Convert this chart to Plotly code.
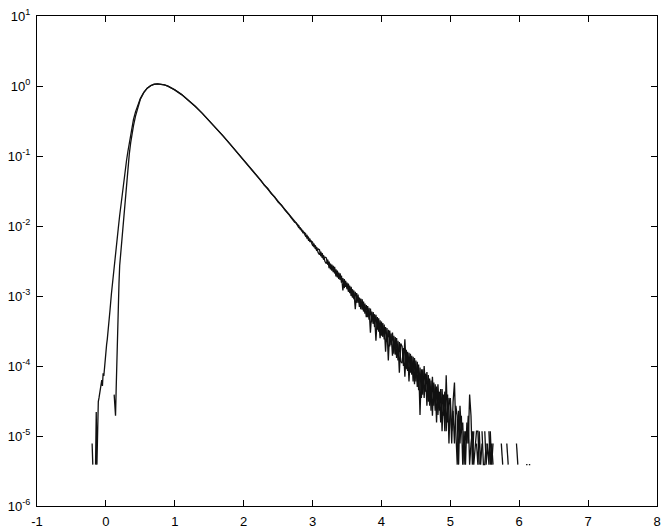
import plotly.graph_objects as go

# ---------------- data ----------------
# curve A: rising flank (starts further left)
rise_x_a = [-0.20, -0.19, -0.18, -0.15, -0.14, -0.13, -0.12, -0.11, -0.10, -0.09,
            -0.08, -0.07, -0.06, -0.05, -0.04, -0.03, -0.02, -0.01, 0.00, 0.01,
            0.02, 0.03, 0.04, 0.06, 0.08, 0.10, 0.12, 0.14, 0.16, 0.18,
            0.20, 0.22, 0.24, 0.26, 0.28, 0.30, 0.32, 0.34, 0.36, 0.38,
            0.40, 0.43, 0.46, 0.50]
rise_y_a = [7.8e-6, 3.9e-6, None, 3.9e-6, 2.2e-5, 3.9e-6, 2.6e-5, 3.1e-5, 3.5e-5, 4.0e-5,
            4.7e-5, 5.5e-5, 6.3e-5, 5.2e-5, 7.9e-5, 7.2e-5, 1.0e-4, 1.3e-4, 1.66e-4, 2.0e-4,
            2.4e-4, 2.95e-4, 3.7e-4, 6.3e-4, 1.07e-3, 1.74e-3, 2.7e-3, 4.1e-3, 6.2e-3, 9.3e-3,
            1.41e-2, 2.09e-2, 3.1e-2, 4.5e-2, 6.3e-2, 8.7e-2, 0.117, 0.155, 0.204, 0.263,
            0.331, 0.427, 0.525, 0.661]

# curve B: rising flank (starts near x = 0.12)
rise_x_b = [0.12, 0.13, 0.14, 0.15, 0.16, 0.17, 0.18, 0.19, 0.20, 0.22,
            0.24, 0.26, 0.28, 0.30, 0.32, 0.34, 0.36, 0.38, 0.40, 0.43,
            0.46, 0.50]
rise_y_b = [3.9e-5, 1.95e-5, 1.95e-5, 5.0e-5, 1.41e-4, 3.5e-4, 7.6e-4, 1.51e-3, 2.7e-3, 4.7e-3,
            7.6e-3, 1.26e-2, 2.09e-2, 3.7e-2, 6.8e-2, 0.107, 0.155, 0.209, 0.269, 0.372,
            0.49, 0.646]

# peak and smooth decline (both curves)
smooth_x = [0.55, 0.60, 0.65, 0.70, 0.75, 0.80, 0.85, 0.90, 0.95, 1.00,
            1.10, 1.20, 1.30, 1.40, 1.50, 1.60, 1.70, 1.80, 1.90, 2.00,
            2.05, 2.10, 2.15, 2.20, 2.25, 2.30, 2.35, 2.40, 2.45, 2.50, 2.55]
smooth_y_a = [0.813, 0.933, 1.012, 1.059, 1.072, 1.062, 1.035, 0.993, 0.940, 0.881,
              0.753, 0.627, 0.508, 0.406, 0.320, 0.250, 0.194, 0.149, 0.1146, 0.0875,
              0.0766, 0.0668, 0.0583, 0.0509, 0.0445, 0.0387, 0.0338, 0.0294, 0.0257, 0.0224, 0.0195]
smooth_y_b = [0.805, 0.930, 1.010, 1.058, 1.071, 1.062, 1.035, 0.993, 0.940, 0.881,
              0.753, 0.627, 0.508, 0.406, 0.320, 0.250, 0.194, 0.149, 0.1146, 0.0870,
              0.0771, 0.0663, 0.0588, 0.0503, 0.0450, 0.0381, 0.0343, 0.0290, 0.0261, 0.0220, 0.0198]

# noisy tail, histogram bins of width 0.02 starting at x = 2.60 (None = empty bin)
TAIL_START = 2.60
TAIL_STEP = 0.02
tail_y_a = [
    1.71e-2, 1.60e-2, 1.53e-2, 1.43e-2, 1.37e-2,
    1.31e-2, 1.20e-2, 1.17e-2, 1.07e-2, 1.05e-2,
    1.01e-2, 9.0e-3, 9.0e-3, 8.0e-3, 8.1e-3,
    7.7e-3, 6.7e-3, 6.9e-3, 6.0e-3, 6.1e-3,
    5.9e-3, 5.0e-3, 5.3e-3, 4.4e-3, 4.7e-3,
    4.6e-3, 3.7e-3, 4.1e-3, 3.3e-3, 3.6e-3,
    3.5e-3, 2.8e-3, 3.1e-3, 2.4e-3, 2.8e-3,
    2.2e-3, 2.6e-3, 1.9e-3, 2.3e-3, 1.75e-3,
    2.1e-3, 1.55e-3, 1.8e-3, 1.3e-3, 1.65e-3,
    1.25e-3, 1.5e-3, 1.1e-3, 1.35e-3, 9.5e-4,
    1.2e-3, 6.5e-4, 1.1e-3, 8.0e-4, 9.5e-4,
    6.5e-4, 9.0e-4, 6.0e-4, 7.8e-4, 5.0e-4,
    7.2e-4, 4.6e-4, 6.6e-4, 4.2e-4, 5.9e-4,
    3.6e-4, 5.4e-4, 3.3e-4, 4.8e-4, 2.5e-4,
    4.3e-4, 2.6e-4, 3.9e-4, 1.6e-4, 3.5e-4,
    1.2e-4, 3.2e-4, 2.0e-4, 3.0e-4, 1.5e-4,
    2.6e-4, 1.3e-4, 2.3e-4, 8.0e-5, 2.1e-4,
    1.9e-4, 1.0e-4, 2.4e-4, 9.0e-5, 1.6e-4,
    6.0e-5, 1.5e-4, 7.5e-5, 1.35e-4, 5.5e-5,
    1.2e-4, 5.0e-5, 1.05e-4, 2.0e-5, 9.0e-5,
    3.9e-5, 1.0e-4, 4.3e-5, 8.2e-5, 3.1e-5,
    6.6e-5, 2.3e-5, 7.0e-5, 2.7e-5, 5.5e-5,
    1.56e-5, 5.5e-5, 2.3e-5, 4.7e-5, 1.17e-5,
    3.9e-5, 1.17e-5, 7.4e-5, 1.56e-5, 3.5e-5,
    2.7e-5, 7.8e-6, 3.1e-5, 5.8e-5, 1.17e-5,
    3.9e-6, 2.3e-5, 7.8e-6, 1.95e-5, 3.9e-6,
    1.17e-5, 3.9e-6, 1.56e-5, 7.8e-6, 3.9e-5,
    1.95e-5, 3.9e-6, 1.17e-5, None, 7.8e-6,
    3.9e-6, 1.17e-5, 3.9e-6, 7.8e-6, None,
    1.17e-5, 3.9e-6, 7.8e-6, 3.9e-6, 1.17e-5,
    3.9e-6, 7.8e-6, None, None, None,
    None, None, 7.8e-6, 3.9e-6, None,
    None, 7.8e-6, 3.9e-6, None, None,
    None, None, None, None, None,
    None, None, None, None, None,
    3.9e-6, 3.9e-6, None, None,
]
tail_y_b = [
    1.69e-2, 1.62e-2, 1.51e-2, 1.45e-2, 1.35e-2,
    1.27e-2, 1.24e-2, 1.13e-2, 1.11e-2, 1.01e-2,
    9.5e-3, 9.5e-3, 8.5e-3, 8.5e-3, 7.6e-3,
    7.1e-3, 7.3e-3, 6.3e-3, 6.5e-3, 5.7e-3,
    5.3e-3, 5.6e-3, 4.7e-3, 5.0e-3, 4.2e-3,
    3.9e-3, 4.3e-3, 3.5e-3, 3.8e-3, 3.1e-3,
    2.9e-3, 3.3e-3, 2.5e-3, 2.9e-3, 2.3e-3,
    2.7e-3, 2.1e-3, 2.4e-3, 1.85e-3, 2.15e-3,
    1.7e-3, 1.95e-3, 1.2e-3, 1.75e-3, 1.35e-3,
    1.55e-3, 1.15e-3, 1.4e-3, 1.0e-3, 1.25e-3,
    9.0e-4, 1.15e-3, 8.0e-4, 1.05e-3, 7.0e-4,
    9.2e-4, 6.4e-4, 8.3e-4, 5.6e-4, 7.4e-4,
    5.0e-4, 6.8e-4, 3.0e-4, 6.0e-4, 4.0e-4,
    5.5e-4, 2.3e-4, 5.0e-4, 3.1e-4, 4.5e-4,
    2.7e-4, 4.1e-4, 2.4e-4, 3.6e-4, 2.2e-4,
    3.3e-4, 1.9e-4, 2.9e-4, 1.4e-4, 2.7e-4,
    1.45e-4, 2.5e-4, 1.2e-4, 2.2e-4, 1.15e-4,
    1.1e-4, 1.8e-4, 7.0e-5, 1.7e-4, 8.5e-5,
    1.55e-4, 8.0e-5, 1.4e-4, 6.0e-5, 1.3e-4,
    6.0e-5, 1.15e-4, 4.5e-5, 9.5e-5, 3.5e-5,
    9.0e-5, 3.5e-5, 7.8e-5, 2.7e-5, 7.4e-5,
    2.7e-5, 6.2e-5, 1.95e-5, 5.8e-5, 2.3e-5,
    5.1e-5, 2.0e-5, 4.3e-5, 1.56e-5, 4.7e-5,
    1.95e-5, 4.3e-5, 1.17e-5, 3.9e-5, 7.8e-6,
    3.5e-5, 1.17e-5, 2.3e-5, 7.8e-6, 2.7e-5,
    1.95e-5, 3.9e-6, 2.7e-5, 1.17e-5, 1.56e-5,
    3.9e-6, 1.17e-5, 7.8e-6, 1.95e-5, 3.9e-6,
    7.8e-6, 1.17e-5, 3.9e-6, 7.8e-6, 1.17e-5,
    1.17e-5, 3.9e-6, None, 1.17e-5, 3.9e-6,
    3.9e-6, 7.8e-6, None, 1.17e-5, 3.9e-6,
    7.8e-6, 3.9e-6, None, None, None,
    None, None, None, None, None,
    None, None, None, None, None,
    None, None, None, 7.8e-6, 3.9e-6,
    None, None, None, None, None,
    None, None, 3.9e-6, 3.9e-6,
]

x_ticks = [-1, 0, 1, 2, 3, 4, 5, 6, 7, 8]
y_tick_vals = [1e-6, 1e-5, 1e-4, 1e-3, 1e-2, 1e-1, 1e0, 1e1]
y_tick_text = ["10<sup>-6</sup>", "10<sup>-5</sup>", "10<sup>-4</sup>", "10<sup>-3</sup>",
               "10<sup>-2</sup>", "10<sup>-1</sup>", "10<sup>0</sup>", "10<sup>1</sup>"]

# ---------------- assemble ----------------
tail_x_a = [round(TAIL_START + i * TAIL_STEP, 2) for i in range(len(tail_y_a))]
tail_x_b = [round(TAIL_START + i * TAIL_STEP, 2) for i in range(len(tail_y_b))]

xa = rise_x_a + smooth_x + tail_x_a
ya = rise_y_a + smooth_y_a + tail_y_a
xb = rise_x_b + smooth_x + tail_x_b
yb = rise_y_b + smooth_y_b + tail_y_b

fig = go.Figure()
for xs, ys in ((xa, ya), (xb, yb)):
    fig.add_trace(go.Scatter(x=xs, y=ys, mode="lines", connectgaps=False,
                             line=dict(color="#111111", width=1.3), showlegend=False,
                             hoverinfo="skip"))

axis_common = dict(showline=True, linecolor="black", linewidth=1, mirror="ticks",
                   ticks="inside", ticklen=6, tickwidth=1, tickcolor="black",
                   showgrid=False, zeroline=False, automargin=False,
                   ticklabeloverflow="allow",
                   tickfont=dict(family="Liberation Sans, Arial, sans-serif", size=13, color="black"))

fig.update_layout(
    width=667, height=531,
    margin=dict(l=37, r=10, t=16, b=25),
    paper_bgcolor="white", plot_bgcolor="white",
    showlegend=False,
    xaxis=dict(range=[-1, 8], tickvals=x_ticks, ticktext=[str(v) for v in x_ticks],
               ticklabelstandoff=3, **axis_common),
    yaxis=dict(type="log", range=[-6, 1], tickvals=y_tick_vals, ticktext=y_tick_text,
               ticklabelstandoff=3, **axis_common),
)

# remove the default 8 px page margin so the figure fills the window exactly
fig.write_html("out.html", config={"displayModeBar": False},
               post_script="document.body.style.margin='0px';")
